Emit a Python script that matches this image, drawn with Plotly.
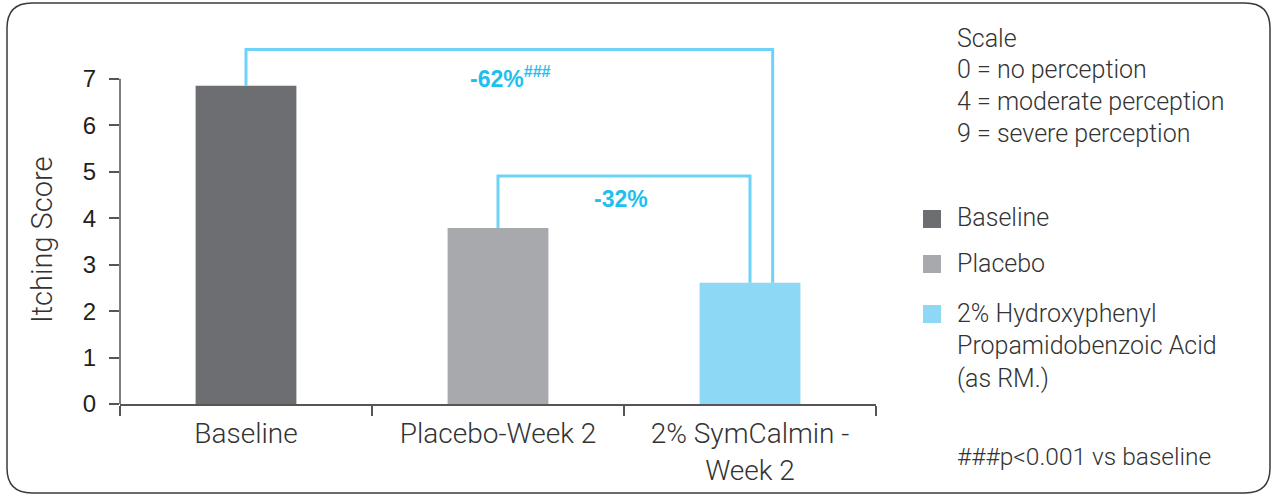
import plotly.graph_objects as go

# ---- data ----
categories = ["Baseline", "Placebo-Week 2", "2% SymCalmin -<br>Week 2"]
scores = [6.85, 3.79, 2.61]
bar_colors = ["#6d6e71", "#a7a9ac", "#8dd8f5"]
legend_labels = ["Baseline", "Placebo", "2% Hydroxyphenyl<br>Propamidobenzoic Acid<br>(as RM.)"]
y_ticks = [0, 1, 2, 3, 4, 5, 6, 7]
y_title = "Itching Score"
scale_lines = ["Scale", "0 = no perception", "4 = moderate perception", "9 = severe perception"]
footnote = "###p<0.001 vs baseline"
comparison_labels = ["-62%<sup>###</sup>", "-32%"]
comparison_from = [0, 1]
comparison_to = [2, 2]
bracket_levels = [7.63, 4.91]

# ---- geometry (pixels) ----
FW, FH = 1277, 498
L, R, T, B = 120, 876, 44, 404
W, H = R - L, B - T


def px(x):
    return (x - L) / W


def py(y):
    return (B - y) / H


FONT = "Roboto, 'DejaVu Sans', sans-serif"
ARIAL = "'Liberation Sans', Arial, sans-serif"
TXT = "#333333"
CYAN_LINE = "#6dd3f7"
CYAN_TXT = "#1dbff0"

fig = go.Figure()
for cat, val, col in zip(categories, scores, bar_colors):
    fig.add_trace(go.Bar(x=[cat], y=[val], marker=dict(color=col, line=dict(width=0)),
                         width=0.4, showlegend=False, hoverinfo="skip"))

shapes = []
annotations = []

# brackets
offsets = [0.09, 0.0]
for lab, a, b, lvl, off, ly, lx in zip(comparison_labels, comparison_from, comparison_to,
                                       bracket_levels, offsets, [7.05, 4.42], [1.05, 1.49]):
    xa, xb = a, b + off
    path = f"M {xa},{scores[a]} L {xa},{lvl} L {xb},{lvl} L {xb},{scores[b]}"
    shapes.append(dict(type="path", xref="x", yref="y", path=path,
                       line=dict(color=CYAN_LINE, width=3)))
    annotations.append(dict(x=lx, y=ly, xref="x", yref="y", text=f"<b>{lab}</b>",
                            showarrow=False, font=dict(family=ARIAL, size=23, color=CYAN_TXT)))

# y axis line
shapes.append(dict(type="line", xref="x domain", yref="y", x0=0, x1=0, y0=0, y1=7,
                   line=dict(color="#555555", width=1.5)))

# y axis title (centred on the 0-7 axis line)
annotations.append(dict(x=px(42), y=py(240), xref="paper", yref="paper", text=y_title,
                        textangle=-90, showarrow=False, xanchor="center", yanchor="middle",
                        font=dict(family=FONT, size=29, color=TXT, weight=300)))

# scale text
for i, s in enumerate(scale_lines):
    annotations.append(dict(x=px(955), y=py(38 + i * 31.7), xref="paper", yref="paper",
                            xanchor="left", yanchor="middle", text=s, showarrow=False,
                            font=dict(family=FONT, size=25, color=TXT, weight=300)))

# legend
sq_centers = [219, 264, 314]
for lab, col, cy in zip(legend_labels, bar_colors, sq_centers):
    shapes.append(dict(type="rect", xref="paper", yref="paper",
                       x0=px(923), x1=px(941), y0=py(cy - 9), y1=py(cy + 9),
                       fillcolor=col, line=dict(width=0)))
    for j, ln in enumerate(lab.split("<br>")):
        annotations.append(dict(x=px(955), y=py(cy - 1 + j * 32.5), xref="paper", yref="paper",
                                xanchor="left", yanchor="middle", text=ln, showarrow=False,
                                font=dict(family=FONT, size=25, color=TXT, weight=300)))

annotations.append(dict(x=px(955), y=py(456), xref="paper", yref="paper",
                        xanchor="left", yanchor="middle", text=footnote, showarrow=False,
                        font=dict(family=FONT, size=24.5, color=TXT, weight=300)))

# rounded border
x0, y0, x1, y1, r = 7, 3, 1270, 493, 25
border = (f"M {px(x0 + r)},{py(y0)} L {px(x1 - r)},{py(y0)} "
          f"Q {px(x1)},{py(y0)} {px(x1)},{py(y0 + r)} "
          f"L {px(x1)},{py(y1 - r)} Q {px(x1)},{py(y1)} {px(x1 - r)},{py(y1)} "
          f"L {px(x0 + r)},{py(y1)} Q {px(x0)},{py(y1)} {px(x0)},{py(y1 - r)} "
          f"L {px(x0)},{py(y0 + r)} Q {px(x0)},{py(y0)} {px(x0 + r)},{py(y0)} Z")
shapes.append(dict(type="path", xref="paper", yref="paper", path=border,
                   line=dict(color="#3a3a3a", width=1.5)))

fig.update_layout(
    width=FW, height=FH,
    margin=dict(l=L, r=FW - R, t=T, b=FH - B, autoexpand=False),
    paper_bgcolor="white", plot_bgcolor="white",
    barmode="overlay", showlegend=False,
    shapes=shapes, annotations=annotations,
    xaxis=dict(type="category", categoryorder="array", categoryarray=categories,
               range=[-0.5, 2.5], showline=True, linecolor="#555555", linewidth=1.5,
               ticks="outside", tickson="boundaries", ticklen=10, tickcolor="#555555",
               tickwidth=1.5, showgrid=False, zeroline=False, ticklabelstandoff=4,
               tickfont=dict(family=FONT, size=28, color=TXT, weight=300)),
    yaxis=dict(range=[0, 7.75], tickvals=y_ticks, showline=False, ticks="outside",
               ticklen=10, tickcolor="#555555", tickwidth=1.5, showgrid=False,
               zeroline=False, ticklabelstandoff=8,
               tickfont=dict(family=ARIAL, size=24, color="#231f20")),
)

fig.write_html("out.html", config={"displayModeBar": False},
               post_script="document.body.style.margin='0';")
